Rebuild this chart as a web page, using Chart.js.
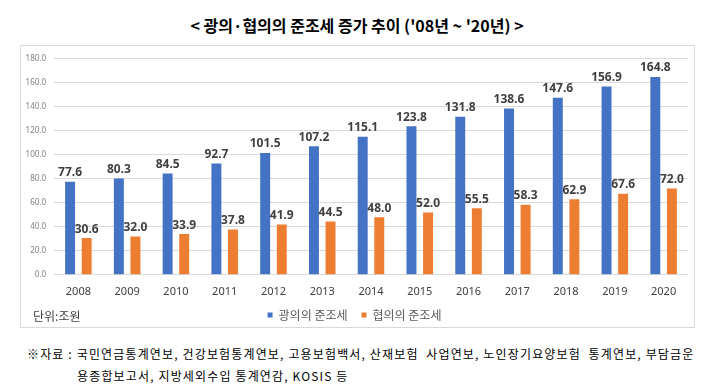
<!DOCTYPE html>
<html>
<head>
<meta charset="utf-8">
<script src="https://cdn.jsdelivr.net/npm/chart.js@4/dist/chart.umd.min.js"></script>
<style>
  body { margin: 0; background: #fff; width: 707px; height: 390px; position: relative; overflow: hidden; font-family: "Noto Sans CJK KR", sans-serif; }
  #title { position: absolute; left: 0; width: 714px; top: 13px; text-align: center; font-size: 16px; font-weight: bold; color: #000; white-space: pre; }
  #chartBox { position: absolute; left: 20px; top: 45px; width: 673px; height: 281px; border: 1px solid #d9d9d9; }
  #unit { position: absolute; left: 12px; top: 261px; font-size: 12px; color: #404040; }
  .note { position: absolute; font-size: 12px; color: #000; white-space: pre; letter-spacing: 1.15px; }
</style>
</head>
<body>
<div id="title">&lt; 광의·협의의 준조세 증가 추이 ('08년 ~ '20년) &gt;</div>
<div id="chartBox">
  <canvas id="myChart" width="673" height="281"></canvas>
  <div id="unit">단위:조원</div>
</div>
<div class="note" style="left:27px; top:345px;">※자료 : 국민연금통계연보, 건강보험통계연보, 고용보험백서, 산재보험  사업연보, 노인장기요양보험  통계연보, 부담금운</div>
<div class="note" style="left:77px; top:367px;">용종합보고서, 지방세외수입 통계연감, KOSIS 등</div>
<script>
let years = ["2008", "2009", "2010", "2011", "2012", "2013", "2014", "2015", "2016", "2017", "2018", "2019", "2020"];
let broadValues = [77.6, 80.3, 84.5, 92.7, 101.5, 107.2, 115.1, 123.8, 131.8, 138.6, 147.6, 156.9, 164.8];
let narrowValues = [30.6, 32.0, 33.9, 37.8, 41.9, 44.5, 48.0, 52.0, 55.5, 58.3, 62.9, 67.6, 72.0];
let seriesNames = ["광의의 준조세", "협의의 준조세"];

// labels above each bar
const valueLabels = {
  id: "valueLabels",
  afterDatasetsDraw(chart) {
    const ctx = chart.ctx;
    ctx.save();
    ctx.font = "bold 12px 'Noto Sans', sans-serif";
    ctx.fillStyle = "#404040";
    ctx.textAlign = "center";
    ctx.textBaseline = "bottom";
    chart.data.datasets.forEach((ds, i) => {
      chart.getDatasetMeta(i).data.forEach((bar, j) => {
        ctx.fillText(ds.data[j].toFixed(1), bar.x, bar.y - 3);
      });
    });
    ctx.restore();
  }
};

let myChart = document.getElementById("myChart");
const data = {
  labels: years,
  datasets: [
    {
      label: seriesNames[0],
      backgroundColor: "#4472c4",
      data: broadValues,
      barPercentage: 0.6,
      categoryPercentage: 0.68,
    },
    {
      label: seriesNames[1],
      backgroundColor: "#ed7d31",
      data: narrowValues,
      barPercentage: 0.6,
      categoryPercentage: 0.68,
    },
  ],
};

const config = {
  type: "bar",
  data: data,
  plugins: [valueLabels],
  options: {
    responsive: false,
    animation: false,
    layout: { padding: { top: 10, right: 6, left: 0, bottom: 2 } },
    scales: {
      x: {
        afterFit(scale) { scale.height -= 5; },
        grid: { display: false },
        border: { display: false },
        ticks: { color: "#404040", font: { size: 11, family: "'Noto Sans', sans-serif" }, padding: 2 },
      },
      y: {
        min: 0,
        max: 180,
        afterFit(scale) { scale.width = 33; },
        grid: { color: "#d9d9d9", drawTicks: false },
        border: { display: false },
        ticks: {
          stepSize: 20,
          color: "#7f7f7f",
          padding: 8,
          font: { size: 8, family: "'Noto Sans', sans-serif" },
          callback: (v) => v.toFixed(1),
        },
      },
    },
    plugins: {
      legend: {
        position: "bottom",
        maxHeight: 30,
        labels: {
          boxWidth: 5,
          boxHeight: 5,
          padding: 14,
          color: "#595959",
          font: { size: 12, family: "'Noto Sans CJK KR', sans-serif" },
        },
      },
      tooltip: { enabled: false },
    },
  },
};

const newChart = new Chart(myChart, config);
</script>
</body>
</html>
